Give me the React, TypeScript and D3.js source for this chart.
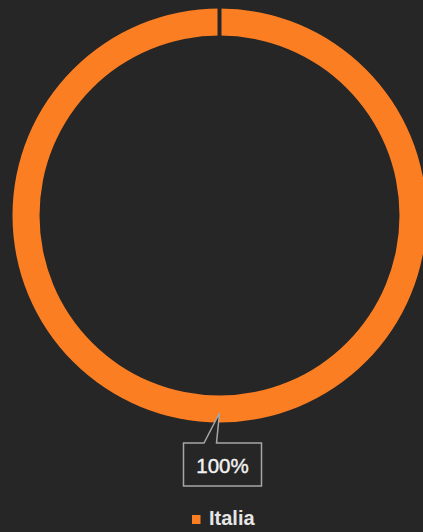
import React from "react";
import * as d3 from "d3";

const categories = ["Italia"];
const values = [100];
const labels = ["100%"];

const W = 423;
const H = 532;
const BG = "#262626";
const ORANGE = "#fb7e23";

export default function App() {
  const cx = 219.5;
  const cy = 215.5;
  const R = 207;
  const r = 180;
  const pie = d3.pie<number>().sort(null).value((d) => d)(values);
  const arc = d3.arc<d3.PieArcDatum<number>>().innerRadius(r).outerRadius(R);
  const color = d3.scaleOrdinal<string, string>().domain(categories).range([ORANGE]);

  // callout geometry
  const tipX = cx;
  const tipY = 413;
  const bx0 = 183.5, bx1 = 261.5, by0 = 443, by1 = 486;
  const calloutPath = `M${bx0},${by0} L204,${by0} L${tipX},${tipY} L216.5,${by0} L${bx1},${by0} L${bx1},${by1} L${bx0},${by1} Z`;

  return (
    <div style={{ position: "fixed", left: 0, top: 0, width: W, height: H, background: BG }}>
      <svg width={W} height={H} style={{ display: "block" }}>
        <rect width={W} height={H} fill={BG} />
        <g transform={`translate(${cx},${cy})`}>
          {pie.map((p, i) => (
            <path key={i} d={arc(p) || ""} fill={color(categories[i])} />
          ))}
          {pie.map((p, i) => {
            const a = p.startAngle;
            return (
              <line
                key={"sep" + i}
                x1={Math.sin(a) * (r - 2)}
                y1={-Math.cos(a) * (r - 2)}
                x2={Math.sin(a) * (R + 2)}
                y2={-Math.cos(a) * (R + 2)}
                stroke={BG}
                strokeWidth={4}
              />
            );
          })}
        </g>
        <path d={calloutPath} fill={BG} stroke="#a6a6a6" strokeWidth={1.5} strokeLinejoin="miter" />
        {labels.map((l, i) => (
          <text
            key={i}
            x={(bx0 + bx1) / 2}
            y={473}
            textAnchor="middle"
            fontFamily="'Liberation Sans', Arial, sans-serif"
            fontSize={20.5}
            fill="#f2f2f2"
            stroke="#f2f2f2"
            strokeWidth={0.4}
          >
            {l}
          </text>
        ))}
        {categories.map((c, i) => (
          <g key={c}>
            <rect x={192} y={515} width={8.5} height={9} fill={color(c)} />
            <text
              x={209}
              y={525}
              fontFamily="'Liberation Sans', Arial, sans-serif"
              fontWeight="bold"
              fontSize={20}
              fill="#e6e6e6"
            >
              {c}
            </text>
          </g>
        ))}
      </svg>
    </div>
  );
}
